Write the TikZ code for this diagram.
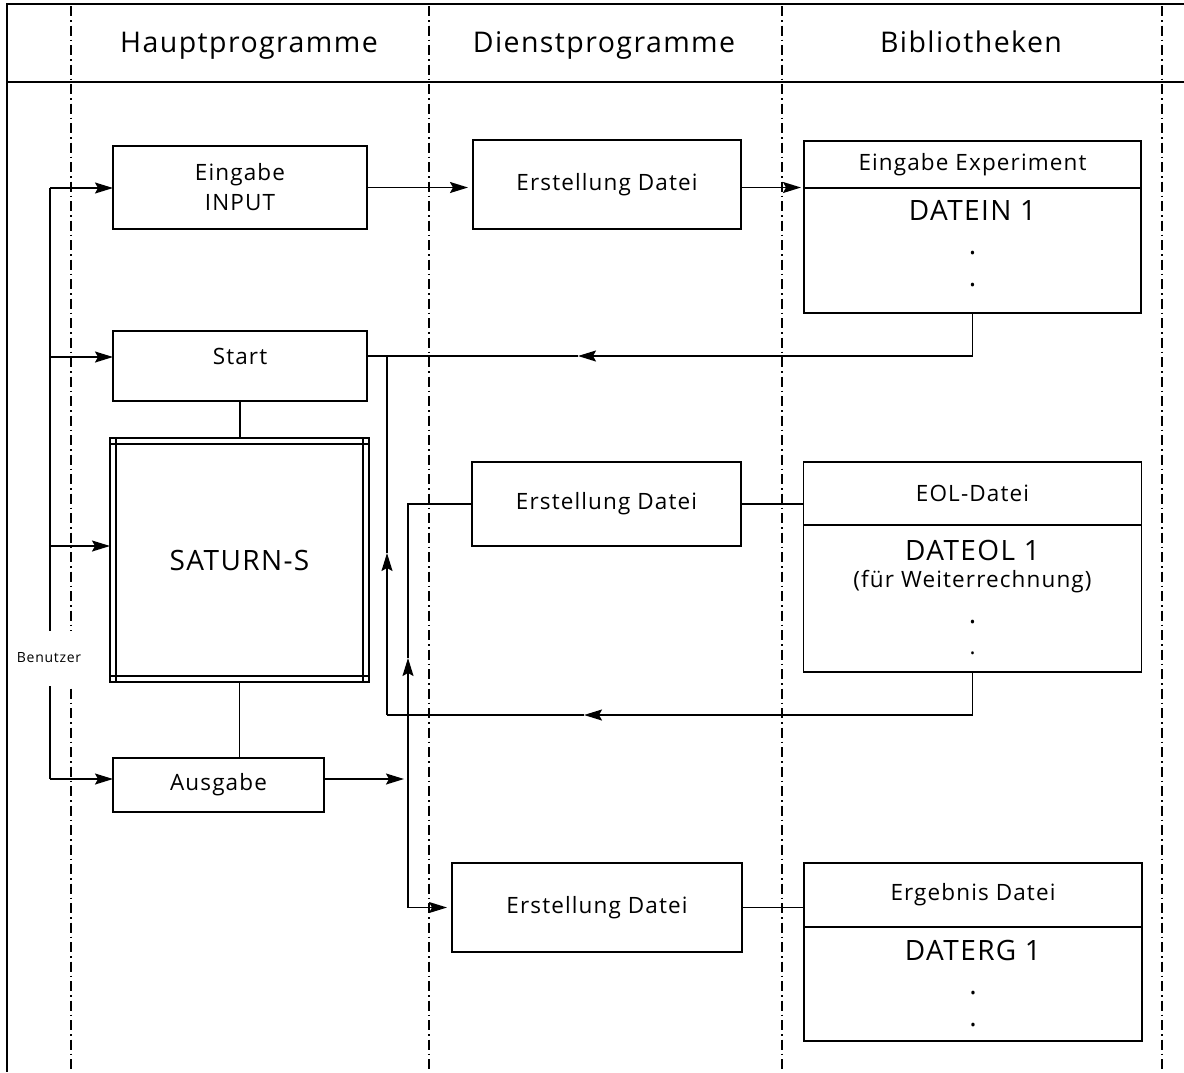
\documentclass[tikz,border=0pt]{standalone}
\usepackage{fontspec}
\setmainfont{Open Sans}[LetterSpace=5]
\usetikzlibrary{arrows.meta,positioning}

\newcommand{\hdrfont}{\fontsize{28.5}{30}\selectfont}
\newcommand{\boxfont}{\fontsize{22.5}{30}\selectfont}
\newcommand{\bigfont}{\fontsize{28}{32}\selectfont}
\newcommand{\tinyfont}{\fontsize{14}{15}\selectfont}

\begin{document}
\begin{tikzpicture}[x=1pt,y=1pt,line width=1.6pt,
    pbox/.style={draw,outer sep=0pt,inner sep=0pt,align=center,font=\boxfont},
    lane/.style={line width=1.3pt,dash pattern=on 10pt off 4pt on 1.5pt off 4pt},
    arr/.style={-{Stealth[length=18pt,width=11pt,inset=3pt]}}]
    \useasboundingbox (0,0) rectangle (1184,-1072);
    % frame and lanes
    \draw (1184,-4) -- (7,-4) -- (7,-1072);
    \draw (7,-82) -- (1184,-82);
    \foreach \x in {71,429,782,1162}
        \draw[lane] (\x,-6) -- (\x,-1072);
    \node[font=\hdrfont,anchor=base] (haupt) at (249,-52) {Hauptprogramme};
    \node[font=\hdrfont,anchor=base] (dienst) at (604,-52) {Dienstprogramme};
    \node[font=\hdrfont,anchor=base] (biblio) at (971,-52) {Bibliotheken};

    % Hauptprogramme
    \node[pbox,minimum width=254,minimum height=83] (input) at (240,-187.5) {Eingabe\\INPUT};
    \node[pbox,minimum width=254,minimum height=70,text depth=18.5pt] (start) at (240,-366) {Start};
    \node[pbox,minimum width=259,minimum height=244,font=\bigfont] (saturn) at (239.5,-560) {SATURN-S};
    \draw ([xshift=6pt]saturn.north west) -- ([xshift=6pt]saturn.south west)
          ([xshift=-6pt]saturn.north east) -- ([xshift=-6pt]saturn.south east)
          ([yshift=-6pt]saturn.north west) -- ([yshift=-6pt]saturn.north east)
          ([yshift=6pt]saturn.south west) -- ([yshift=6pt]saturn.south east);
    \node[pbox,minimum width=211,minimum height=54] (ausgabe) at (218.5,-785) {Ausgabe};

    % Dienstprogramme
    \node[pbox,minimum width=268,minimum height=89] (erst1) at (607,-184.5) {Erstellung Datei};
    \node[pbox,minimum width=269,minimum height=84] (erst2) at (606.5,-504) {Erstellung Datei};
    \node[pbox,minimum width=290,minimum height=89] (erst3) at (597,-907.5) {Erstellung Datei};

    % Bibliotheken
    \node[pbox,minimum width=337,minimum height=47] (einHead) at (972.5,-164.5) {Eingabe Experiment};
    \node[pbox,minimum width=337,minimum height=125,font=\bigfont,text depth=15pt,below=0pt of einHead] (einBody) {DATEIN 1\\[2pt].\\.};
    \node[pbox,minimum width=338,minimum height=63] (eolHead) at (972.5,-493.5) {EOL-Datei};
    \node[pbox,minimum width=338,minimum height=147,text depth=3pt,below=0pt of eolHead] (eolBody)
        {{\bigfont DATEOL 1}\\[-3pt](für Weiterrechnung)\\[6pt]\bigfont.\\[1pt].};
    \node[pbox,minimum width=338,minimum height=64] (ergHead) at (973,-895) {Ergebnis Datei};
    \node[pbox,minimum width=338,minimum height=114,font=\bigfont,text depth=1pt,below=0pt of ergHead] (ergBody) {DATERG 1\\[2pt].\\.};

    % Benutzer
    \coordinate (benA) at (50,-188);
    \coordinate (benB) at (50,-779);
    \draw (benA) -- (benB);
    \draw[arr] (benA) -- (benA -| input.west);
    \coordinate (stL) at ([yshift=9pt]start.west);
    \coordinate (stR) at ([yshift=10pt]start.east);
    \coordinate (satL) at ([yshift=14pt]saturn.west);
    \draw[arr] (benA |- stL) -- (stL);
    \draw[arr] (benA |- satL) -- (satL);
    \draw[arr] (benB) -- (benB -| ausgabe.west);
    \node[fill=white,font=\tinyfont,minimum height=55,inner xsep=1pt] (benutzer) at (49,-658) {Benutzer};

    \draw (start.south) -- (start.south |- saturn.north);
    \draw (saturn.south) -- (saturn.south |- ausgabe.north);

    % Eingabe
    \draw[arr,shorten >=5pt] (input.east) -- (input.east -| erst1.west);
    \draw[arr,shorten >=3pt] (input.east -| erst1.east) -- (input.east -| einBody.west);

    % Start
    \coordinate (jA) at (387,-356);
    \coordinate (mA) at (578,-356);
    \draw[arr] (einBody.south) |- (mA);
    \draw (mA) -- (stR);

    % EOL
    \coordinate (jB) at (387,-715);
    \coordinate (mB) at (584,-715);
    \coordinate (upA) at (387,-553);
    \draw[arr] (eolBody.south) |- (mB);
    \draw (mB) -- (jB);
    \draw[arr] (jB) -- (upA);
    \draw (upA) -- (jA);

    % Ausgabe
    \coordinate (jC) at (408,-779);
    \coordinate (upB) at (408,-658);
    \draw[arr,shorten >=4pt] (ausgabe.east |- jC) -- (jC);
    \draw[arr] (jC) -- (upB);
    \draw (upB) |- (erst2.west);
    \draw[arr,shorten >=5pt] (jC) |- (erst3.west);

    \draw (erst2.east) -- (erst2.east -| eolHead.west);
    \draw (erst3.east) -- (erst3.east -| ergHead.west);
\end{tikzpicture}
\end{document}
